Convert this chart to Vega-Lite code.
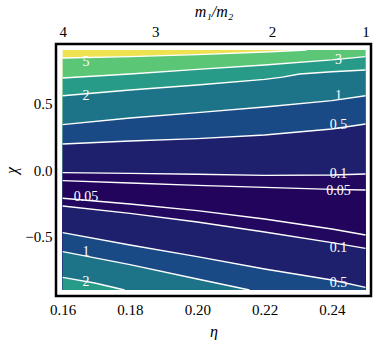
{
  "$schema": "https://vega.github.io/schema/vega-lite/v6.json",
  "width": 315,
  "height": 252,
  "autosize": {"type": "none"},
  "padding": {"left": 56, "top": 44, "right": 3, "bottom": 44},
  "background": "white",
  "config": {
    "view": {"stroke": "black", "strokeWidth": 2.5},
    "font": "Liberation Serif",
    "axis": {"grid": false, "ticks": false, "domain": false, "labelFont": "Liberation Serif", "labelFontSize": 15, "labelColor": "black", "titleFont": "Liberation Serif", "titleFontSize": 16, "titleFontWeight": "normal", "titleFontStyle": "italic", "titleColor": "black"}
  },
  "datasets": {
    "surf": [
      {"s": "top", "eta": 0.16, "chi": 0.9},
      {"s": "top", "eta": 0.25, "chi": 0.9},
      {"s": "u5", "eta": 0.16, "chi": 0.84},
      {"s": "u5", "eta": 0.18, "chi": 0.851},
      {"s": "u5", "eta": 0.20, "chi": 0.866},
      {"s": "u5", "eta": 0.22, "chi": 0.885},
      {"s": "u5", "eta": 0.2325, "chi": 0.9},
      {"s": "u5", "eta": 0.25, "chi": 0.9, "edge": true},
      {"s": "u3", "eta": 0.16, "chi": 0.69},
      {"s": "u3", "eta": 0.18, "chi": 0.72},
      {"s": "u3", "eta": 0.20, "chi": 0.754},
      {"s": "u3", "eta": 0.22, "chi": 0.7875},
      {"s": "u3", "eta": 0.24, "chi": 0.826},
      {"s": "u3", "eta": 0.25, "chi": 0.851},
      {"s": "u2", "eta": 0.16, "chi": 0.557},
      {"s": "u2", "eta": 0.18, "chi": 0.6},
      {"s": "u2", "eta": 0.20, "chi": 0.6375},
      {"s": "u2", "eta": 0.22, "chi": 0.679},
      {"s": "u2", "eta": 0.2253, "chi": 0.697},
      {"s": "u2", "eta": 0.2304, "chi": 0.72},
      {"s": "u2", "eta": 0.24, "chi": 0.737},
      {"s": "u2", "eta": 0.25, "chi": 0.75},
      {"s": "u1", "eta": 0.16, "chi": 0.34},
      {"s": "u1", "eta": 0.18, "chi": 0.39},
      {"s": "u1", "eta": 0.20, "chi": 0.431},
      {"s": "u1", "eta": 0.22, "chi": 0.4725},
      {"s": "u1", "eta": 0.24, "chi": 0.521},
      {"s": "u1", "eta": 0.25, "chi": 0.557},
      {"s": "u05", "eta": 0.16, "chi": 0.195},
      {"s": "u05", "eta": 0.18, "chi": 0.2175},
      {"s": "u05", "eta": 0.20, "chi": 0.236},
      {"s": "u05", "eta": 0.22, "chi": 0.2625},
      {"s": "u05", "eta": 0.24, "chi": 0.3075},
      {"s": "u05", "eta": 0.25, "chi": 0.345},
      {"s": "u01", "eta": 0.16, "chi": -0.02},
      {"s": "u01", "eta": 0.18, "chi": -0.026},
      {"s": "u01", "eta": 0.20, "chi": -0.032},
      {"s": "u01", "eta": 0.22, "chi": -0.04},
      {"s": "u01", "eta": 0.24, "chi": -0.0375},
      {"s": "u01", "eta": 0.25, "chi": -0.03},
      {"s": "u005", "eta": 0.16, "chi": -0.08},
      {"s": "u005", "eta": 0.18, "chi": -0.0975},
      {"s": "u005", "eta": 0.20, "chi": -0.115},
      {"s": "u005", "eta": 0.22, "chi": -0.131},
      {"s": "u005", "eta": 0.24, "chi": -0.145},
      {"s": "u005", "eta": 0.25, "chi": -0.15},
      {"s": "l005", "eta": 0.16, "chi": -0.212},
      {"s": "l005", "eta": 0.18, "chi": -0.255},
      {"s": "l005", "eta": 0.20, "chi": -0.304},
      {"s": "l005", "eta": 0.22, "chi": -0.3675},
      {"s": "l005", "eta": 0.24, "chi": -0.4425},
      {"s": "l005", "eta": 0.25, "chi": -0.4875},
      {"s": "l01", "eta": 0.16, "chi": -0.27},
      {"s": "l01", "eta": 0.18, "chi": -0.326},
      {"s": "l01", "eta": 0.20, "chi": -0.39},
      {"s": "l01", "eta": 0.22, "chi": -0.465},
      {"s": "l01", "eta": 0.24, "chi": -0.544},
      {"s": "l01", "eta": 0.25, "chi": -0.587},
      {"s": "l05", "eta": 0.16, "chi": -0.47},
      {"s": "l05", "eta": 0.18, "chi": -0.5625},
      {"s": "l05", "eta": 0.20, "chi": -0.649},
      {"s": "l05", "eta": 0.22, "chi": -0.7425},
      {"s": "l05", "eta": 0.24, "chi": -0.825},
      {"s": "l05", "eta": 0.25, "chi": -0.88},
      {"s": "l1", "eta": 0.16, "chi": -0.613},
      {"s": "l1", "eta": 0.18, "chi": -0.709},
      {"s": "l1", "eta": 0.20, "chi": -0.8175},
      {"s": "l1", "eta": 0.2155, "chi": -0.9},
      {"s": "l2", "eta": 0.16, "chi": -0.805},
      {"s": "l2", "eta": 0.1695, "chi": -0.8475},
      {"s": "l2", "eta": 0.1784, "chi": -0.9}
    ],
    "labels": [
      {"txt": "5", "eta": 0.1669, "chi": 0.808},
      {"txt": "2", "eta": 0.1669, "chi": 0.557},
      {"txt": "3", "eta": 0.242, "chi": 0.827},
      {"txt": "1", "eta": 0.242, "chi": 0.557},
      {"txt": "0.5", "eta": 0.242, "chi": 0.34},
      {"txt": "0.1", "eta": 0.242, "chi": -0.03},
      {"txt": "0.05", "eta": 0.242, "chi": -0.155},
      {"txt": "0.05", "eta": 0.1669, "chi": -0.2},
      {"txt": "0.1", "eta": 0.242, "chi": -0.5875},
      {"txt": "0.5", "eta": 0.242, "chi": -0.85},
      {"txt": "1", "eta": 0.1669, "chi": -0.613},
      {"txt": "2", "eta": 0.1669, "chi": -0.8375}
    ]
  },
  "resolve": {"axis": {"x": "independent"}},
  "layer": [
    {
      "data": {"name": "surf"},
      "mark": {"type": "area"},
      "encoding": {
        "x": {"field": "eta", "type": "quantitative", "scale": {"domain": [0.15801, 0.25163], "nice": false, "zero": false},
              "axis": {"orient": "top", "values": [0.16, 0.1875, 0.2222222, 0.25], "labelExpr": "datum.value < 0.17 ? '4' : datum.value < 0.2 ? '3' : datum.value < 0.24 ? '2' : '1'", "title": "m₁/m₂", "labelPadding": 5, "titlePadding": 5}},
        "y": {"field": "chi", "type": "quantitative", "stack": null, "scale": {"domain": [-0.945, 0.945], "nice": false, "zero": false},
              "axis": {"values": [-0.5, 0, 0.5], "format": ".1f", "title": "χ", "labelPadding": 4, "titlePadding": 5}},
        "y2": {"datum": -0.9},
        "color": {"field": "s", "type": "nominal", "legend": null,
                  "scale": {"domain": ["top", "u5", "u3", "u2", "u1", "u05", "u01", "u005", "l005", "l01", "l05", "l1", "l2"],
                            "range": ["#efe251", "#5cc677", "#279b88", "#1d7489", "#1a4a86", "#1e1f6d", "#22085f", "#22045c", "#22085f", "#1e1f6d", "#1a4a86", "#1d7489", "#279b88"]}}
      }
    },
    {
      "data": {"name": "surf"},
      "transform": [{"filter": "datum.s != 'top' && !datum.edge"}],
      "mark": {"type": "line", "color": "white", "strokeWidth": 1.3},
      "encoding": {
        "x": {"field": "eta", "type": "quantitative", "axis": {"orient": "bottom", "values": [0.16, 0.18, 0.2, 0.22, 0.24], "format": ".2f", "title": "η", "labelPadding": 6, "titlePadding": 6}},
        "y": {"field": "chi", "type": "quantitative", "axis": {"values": [-0.5, 0, 0.5], "format": ".1f", "title": "χ", "labelPadding": 4, "titlePadding": 5}},
        "detail": {"field": "s"}
      }
    },
    {
      "data": {"name": "labels"},
      "mark": {"type": "text", "color": "white", "fontSize": 14, "font": "Liberation Serif"},
      "encoding": {
        "x": {"field": "eta", "type": "quantitative", "axis": null},
        "y": {"field": "chi", "type": "quantitative", "axis": {"values": [-0.5, 0, 0.5], "format": ".1f", "title": "χ", "labelPadding": 4, "titlePadding": 5}},
        "text": {"field": "txt"}
      }
    }
  ]
}
